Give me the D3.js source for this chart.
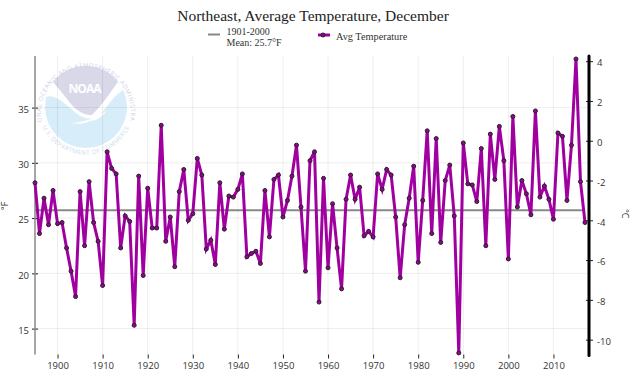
<!DOCTYPE html>
<html>
<head>
<meta charset="utf-8">
<script src="https://cdn.jsdelivr.net/npm/d3@7"></script>
<style>
  html, body { margin: 0; padding: 0; background: #fff; }
  svg { display: block; }
</style>
</head>
<body>
<script>
const startYear = 1895;
const temps = [
  28.2, 23.6, 26.8, 24.4, 27.5, 24.5, 24.6, 22.3, 20.2, 17.9,
  27.4, 22.5, 28.3, 24.6, 22.9, 18.9, 31.0, 29.5, 29.0, 22.3,
  25.2, 24.7, 15.3, 28.8, 19.8, 27.7, 24.1, 24.1, 33.4, 22.9,
  25.1, 20.6, 27.4, 29.4, 24.8, 25.4, 30.4, 28.9, 22.2, 23.0,
  20.8, 28.2, 24.0, 27.0, 26.9, 27.6, 29.0, 21.5, 21.8, 22.0,
  20.9, 27.5, 23.3, 28.5, 28.9, 25.1, 26.6, 28.8, 31.6, 26.0,
  20.2, 30.2, 31.0, 17.4, 28.6, 20.5, 26.3, 22.3, 18.6, 26.7,
  28.9, 26.7, 27.8, 23.4, 23.8, 23.3, 29.0, 27.6, 29.4, 28.9,
  25.1, 19.6, 24.4, 26.8, 29.7, 21.0, 26.6, 32.9, 23.6, 32.2,
  22.8, 28.4, 29.8, 25.2, 12.8, 31.8, 28.1, 28.0, 26.5, 31.3,
  22.5, 32.6, 28.5, 33.3, 30.2, 21.3, 34.2, 26.0, 28.4, 27.2,
  25.3, 34.7, 26.9, 27.9, 26.7, 24.9, 32.7, 32.4, 26.6, 31.6,
  39.4, 28.3, 24.6
];
const years = temps.map((d, i) => startYear + i);
const meanF = 25.7;
const yearTicks = d3.range(1900, 2011, 10);
const fTicks = [15, 20, 25, 30, 35];
const cTicks = [-10, -8, -6, -4, -2, 0, 2, 4];

const width = 640, height = 381;
const plotLeft = 35, plotRight = 589, plotTop = 56, plotBottom = 354.5;
const plotEnd = 585;

const svg = d3.select('body').append('svg')
  .attr('width', width)
  .attr('height', height);

const x = d3.scaleLinear().domain([1895, 2017]).range([plotLeft, plotEnd]);
const y = d3.scaleLinear().domain([15, 35]).range([328.6, 107.6]);
const yC = d3.scaleLinear().domain([(15 - 32) * 5 / 9, (35 - 32) * 5 / 9]).range(y.range());

const sans = '"Open Sans", sans-serif';
const serif = '"Liberation Serif", serif';

// noaa watermark, behind the grid
function drawLogo() {
  const g = svg.append('g').attr('transform', 'translate(86,107)');
  g.append('circle').attr('r', 41).attr('fill', '#d8edfa');
  g.append('path')
    .attr('d', 'M-33,-25 A41,41 0 0 1 32,-25 C26,-17 18,-4 6,8 C-2,9 -10,3 -16,-4 C-22,-12 -28,-19 -33,-25 Z')
    .attr('fill', '#d9d8e9');
  g.append('path')
    .attr('d', 'M-41,-10 C-30,-14 -20,-2 -10,6 C-4,11 4,13 10,11 C18,7 24,-10 39,-18 L32,-25 C26,-17 18,-4 6,8 C-2,9 -10,3 -16,-4 C-22,-12 -28,-19 -33,-25 Z')
    .attr('fill', '#fff');
  g.append('path')
    .attr('d', 'M-14,16 C-2,15 8,12 20,4 C16,11 8,14 4,14 C-2,17 -8,17 -14,16 Z')
    .attr('fill', '#fff');
  g.append('text').attr('x', -1).attr('y', -14).attr('text-anchor', 'middle')
    .attr('font-family', sans).attr('font-size', 12).attr('font-weight', 700)
    .attr('fill', '#fff').attr('textLength', 33).text('NOAA');
  g.append('path').attr('id', 'logoTop').attr('fill', 'none')
    .attr('d', 'M-44,15 A45,45 0 1 1 44,15');
  g.append('path').attr('id', 'logoBottom').attr('fill', 'none')
    .attr('d', 'M-43,21 A48,48 0 0 0 43,21');
  const ring = g.append('g').attr('font-family', sans).attr('font-size', 6);
  ring.append('text').attr('fill', '#cfcfe6').attr('letter-spacing', 0.55)
    .append('textPath').attr('href', '#logoTop')
    .attr('startOffset', '50%').attr('text-anchor', 'middle')
    .text('NATIONAL OCEANIC AND ATMOSPHERIC ADMINISTRATION');
  ring.append('text').attr('fill', '#cbdcec').attr('letter-spacing', 0.5)
    .append('textPath').attr('href', '#logoBottom')
    .attr('startOffset', '50%').attr('text-anchor', 'middle')
    .text('U.S. DEPARTMENT OF COMMERCE');
}
drawLogo();

// grid
svg.append('g').selectAll('line').data(yearTicks).enter().append('line')
  .attr('x1', d => x(d)).attr('x2', d => x(d))
  .attr('y1', plotTop).attr('y2', plotBottom)
  .attr('stroke', '#000').attr('stroke-opacity', 0.07);
svg.append('g').selectAll('line').data(fTicks).enter().append('line')
  .attr('x1', plotLeft).attr('x2', plotRight)
  .attr('y1', d => y(d)).attr('y2', d => y(d))
  .attr('stroke', '#000').attr('stroke-opacity', 0.07);

// axes
function styleAxis(g) {
  g.selectAll('text').attr('font-family', sans).attr('font-size', 9.5).attr('fill', '#333');
  g.selectAll('.tick line').attr('stroke', '#222');
  g.select('.domain').attr('stroke', 'none');
}

svg.append('g')
  .attr('transform', `translate(0,${plotBottom})`)
  .call(d3.axisBottom(x).tickValues(yearTicks).tickFormat(d3.format('d')).tickSize(4).tickPadding(4))
  .call(styleAxis);

svg.append('g')
  .attr('transform', `translate(${plotLeft},0)`)
  .call(d3.axisLeft(y).tickValues(fTicks).tickSize(3).tickPadding(3))
  .call(styleAxis)
  .call(g => g.selectAll('.tick line').attr('x2', -3).attr('x1', 3))
  .call(g => g.selectAll('.tick text').attr('dy', '0.5em'));

svg.append('g')
  .attr('transform', `translate(${plotRight},0)`)
  .call(d3.axisRight(yC).tickValues(cTicks).tickFormat(d => String(d)).tickSize(4).tickPadding(4))
  .call(styleAxis)
  .call(g => g.selectAll('.tick line').attr('x1', -3))
  .call(g => g.selectAll('.tick text').attr('dy', '0.5em'));

svg.append('line').attr('x1', plotLeft).attr('x2', plotLeft).attr('y1', plotTop).attr('y2', plotBottom)
  .attr('stroke', '#888').attr('stroke-width', 1.5);
svg.append('line').attr('x1', plotRight).attr('x2', plotRight).attr('y1', plotTop).attr('y2', plotBottom + 1)
  .attr('stroke', '#000').attr('stroke-width', 3).attr('stroke-linecap', 'round');

svg.append('text')
  .attr('transform', `translate(8,${y(26.1)}) rotate(-90)`)
  .attr('text-anchor', 'middle')
  .attr('font-family', sans).attr('font-size', 9).attr('fill', '#333').text('°F');
svg.append('text')
  .attr('transform', `translate(622,${y(25.4)}) rotate(90)`)
  .attr('text-anchor', 'middle')
  .attr('font-family', sans).attr('font-size', 9).attr('fill', '#333').text('°C');

// mean line
svg.append('line')
  .attr('x1', x(1895)).attr('x2', x(2017))
  .attr('y1', y(meanF)).attr('y2', y(meanF))
  .attr('stroke', '#888').attr('stroke-width', 2);

// temperature series
const line = d3.line()
  .x((d, i) => x(years[i]))
  .y(d => y(d));

svg.append('path')
  .attr('fill', 'none')
  .attr('stroke', '#a000a0')
  .attr('stroke-width', 3)
  .attr('stroke-linejoin', 'miter')
  .attr('d', line(temps));

svg.selectAll('circle.pt')
  .data(temps)
  .enter()
  .append('circle')
  .attr('class', 'pt')
  .attr('r', 2)
  .attr('cx', (d, i) => x(years[i]))
  .attr('cy', d => y(d))
  .attr('fill', '#990099')
  .attr('stroke', '#222')
  .attr('stroke-width', 1);

// title
svg.append('text')
  .attr('x', 313).attr('y', 21)
  .attr('text-anchor', 'middle')
  .attr('font-family', serif).attr('font-size', 15.5).attr('fill', '#222')
  .text('Northeast, Average Temperature, December');

// legend
svg.append('line').attr('x1', 208).attr('x2', 220).attr('y1', 34.5).attr('y2', 34.5)
  .attr('stroke', '#888').attr('stroke-width', 2);
svg.append('text').attr('x', 226.5).attr('y', 35)
  .attr('font-family', serif).attr('font-size', 10).attr('fill', '#333').text('1901-2000');
svg.append('text').attr('x', 226.5).attr('y', 46)
  .attr('font-family', serif).attr('font-size', 10).attr('fill', '#333').text('Mean: 25.7°F');

svg.append('line').attr('x1', 318).attr('x2', 330).attr('y1', 35).attr('y2', 35)
  .attr('stroke', '#a000a0').attr('stroke-width', 3);
svg.append('circle').attr('cx', 323).attr('cy', 35).attr('r', 2)
  .attr('fill', '#990099').attr('stroke', '#222');
svg.append('text').attr('x', 336).attr('y', 40)
  .attr('font-family', serif).attr('font-size', 10.3).attr('fill', '#333').text('Avg Temperature');
</script>
</body>
</html>
